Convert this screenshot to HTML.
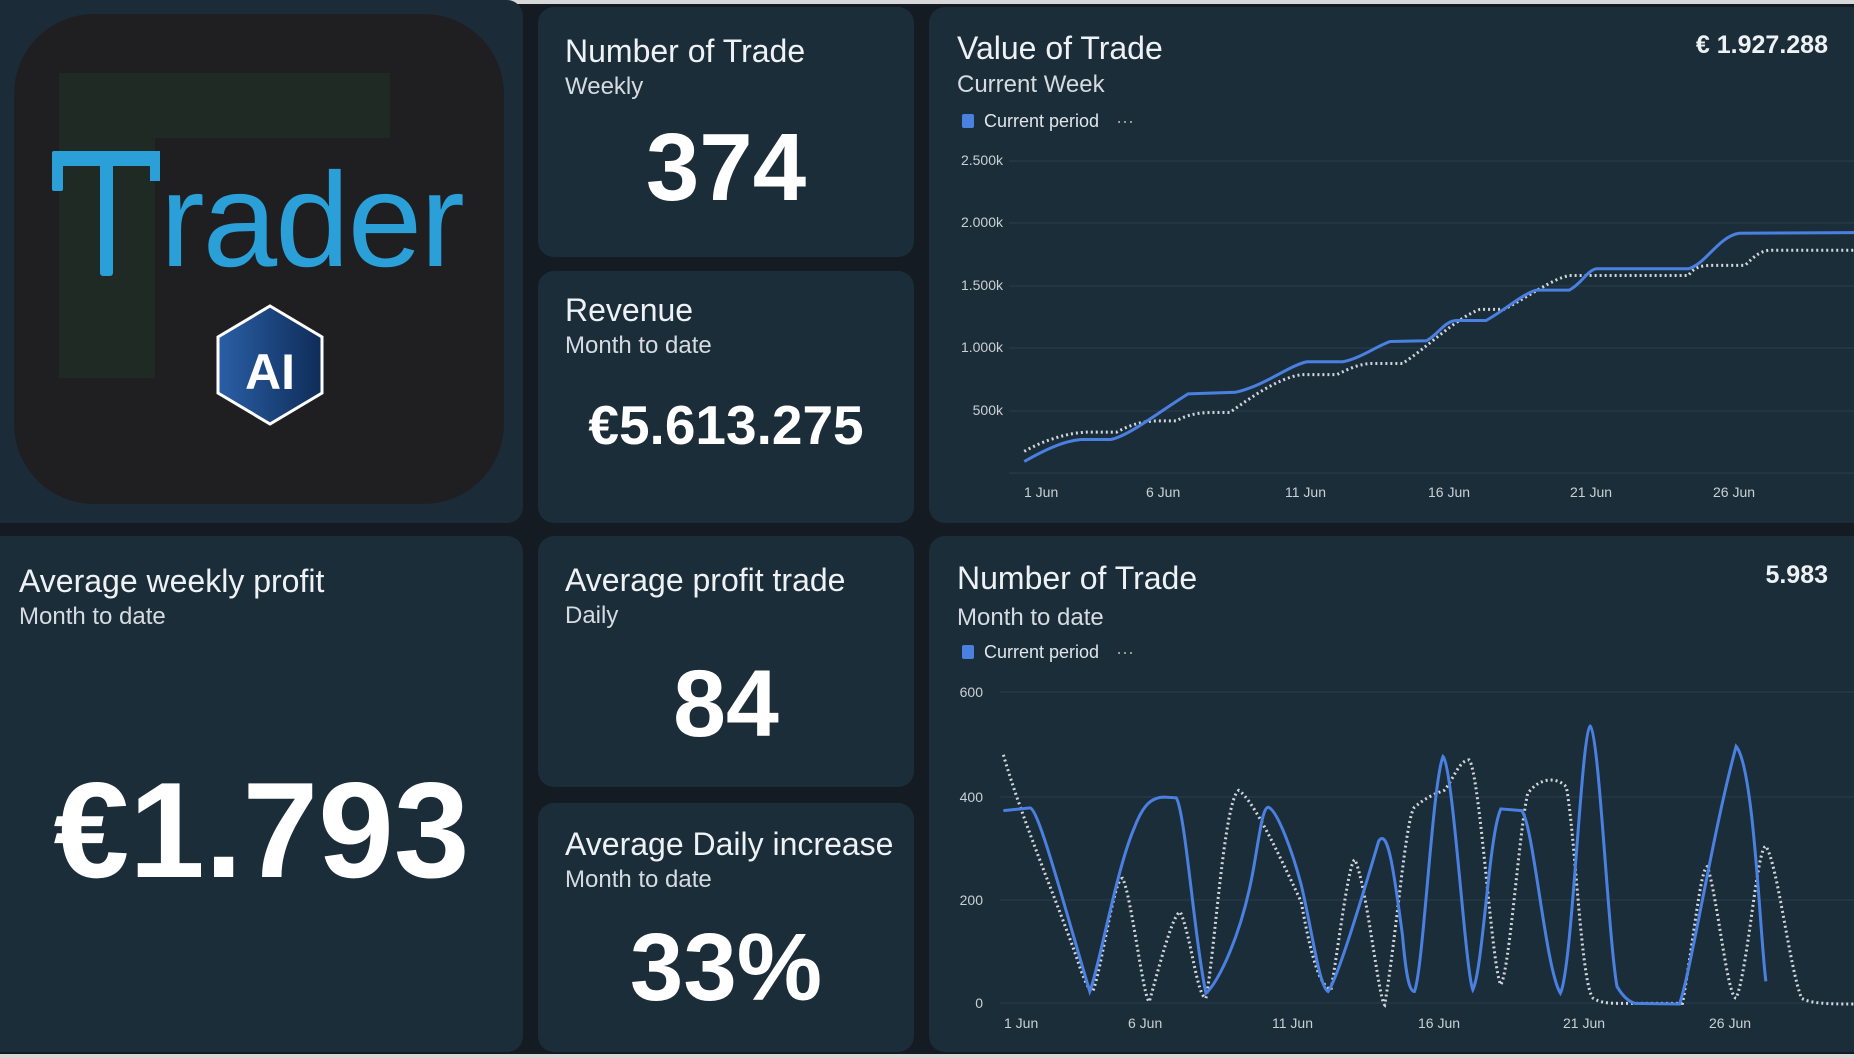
<!DOCTYPE html>
<html><head><meta charset="utf-8"><style>
html,body{margin:0;padding:0;}
body{width:1854px;height:1058px;background:#141b22;position:relative;overflow:hidden;font-family:"Liberation Sans",sans-serif;color:#fff;}
.card{position:absolute;background:#1c2d3a;border-radius:16px;}
.t{position:absolute;font-size:32px;color:#eef2f5;white-space:nowrap;}
.s{position:absolute;font-size:24px;color:#d5dbe0;white-space:nowrap;}
.big{position:absolute;left:0;right:0;text-align:center;font-weight:bold;color:#fff;line-height:1;}
.yl{position:absolute;font-size:14px;color:#c9d0d6;text-align:right;width:60px;}
.xl{position:absolute;font-size:14px;color:#c9d0d6;white-space:nowrap;}
.leg{position:absolute;font-size:18px;color:#e0e5ea;white-space:nowrap;}
.leg i{display:inline-block;width:12px;height:14px;background:#4a80e0;vertical-align:-1px;margin-right:10px;border-radius:2px;}
</style></head><body>
<div style="position:absolute;left:506px;top:0;width:1348px;height:4px;background:#d8d8d8"></div>
<div style="position:absolute;left:0;top:1054px;width:1854px;height:4px;background:#d8d8d8"></div>

<!-- logo card -->
<div class="card" style="left:0;top:0;width:523px;height:523px;border-radius:0 16px 16px 0;background:#1b2c38"></div>
<div style="position:absolute;left:14px;top:14px;width:490px;height:490px;border-radius:80px;background:#1f1f21"></div>
<div style="position:absolute;left:59px;top:73px;width:331px;height:305px;background:#1f2a25"></div>
<div style="position:absolute;left:155px;top:138px;width:300px;height:350px;background:#1f1f21"></div>
<div style="position:absolute;left:52px;top:151px;width:108px;height:15px;background:#2a9fd8;border-radius:3px"></div>
<div style="position:absolute;left:52px;top:151px;width:11px;height:40px;background:#2a9fd8;border-radius:2px"></div>
<div style="position:absolute;left:150px;top:151px;width:10px;height:30px;background:#2a9fd8"></div>
<div style="position:absolute;left:100px;top:151px;width:13px;height:125px;background:#2a9fd8;border-radius:3px"></div>
<div style="position:absolute;left:160px;top:154px;font-size:134px;line-height:134px;color:#2a9fd8;letter-spacing:-2px">rader</div>
<svg style="position:absolute;left:210px;top:303px" width="120" height="124" viewBox="0 0 120 124">
<defs><linearGradient id="hg" x1="0" x2="1"><stop offset="0" stop-color="#2a5fa6"/><stop offset="1" stop-color="#0f2c58"/></linearGradient></defs>
<polygon points="60,3 112,34 112,90 60,121 8,90 8,34" fill="url(#hg)" stroke="#fff" stroke-width="3"/>
<text x="60" y="86" text-anchor="middle" font-family="Liberation Sans" font-weight="bold" font-size="50" fill="#fff">AI</text>
</svg>

<!-- middle cards -->
<div class="card" style="left:538px;top:7px;width:376px;height:250px">
 <div class="t" style="left:27px;top:26px">Number of Trade</div>
 <div class="s" style="left:27px;top:66px">Weekly</div>
 <div class="big" style="top:113px;font-size:96px">374</div>
</div>
<div class="card" style="left:538px;top:271px;width:376px;height:252px">
 <div class="t" style="left:27px;top:21px">Revenue</div>
 <div class="s" style="left:27px;top:61px">Month to date</div>
 <div class="big" style="top:127px;font-size:55px">€5.613.275</div>
</div>
<div class="card" style="left:0;top:536px;width:523px;height:516px;border-radius:0 16px 16px 0">
 <div class="t" style="left:19px;top:27px">Average weekly profit</div>
 <div class="s" style="left:19px;top:67px">Month to date</div>
 <div class="big" style="left:0;right:0;top:226px;font-size:136px">€1.793</div>
</div>
<div class="card" style="left:538px;top:536px;width:376px;height:251px">
 <div class="t" style="left:27px;top:26px">Average profit trade</div>
 <div class="s" style="left:27px;top:66px">Daily</div>
 <div class="big" style="top:121px;font-size:95px">84</div>
</div>
<div class="card" style="left:538px;top:803px;width:376px;height:249px">
 <div class="t" style="left:27px;top:23px">Average Daily increase</div>
 <div class="s" style="left:27px;top:63px">Month to date</div>
 <div class="big" style="top:117px;font-size:96px">33%</div>
</div>

<!-- chart 1 -->
<div class="card" style="left:929px;top:7px;width:940px;height:516px"></div>
<div class="t" style="left:957px;top:30px">Value of Trade</div>
<div class="t" style="left:1600px;top:31px;width:228px;text-align:right;font-weight:bold;font-size:25px">€ 1.927.288</div>
<div class="s" style="left:957px;top:71px">Current Week</div>
<div class="leg" style="left:962px;top:111px"><i></i>Current period <span style="margin-left:12px;color:#aaa">···</span></div>
<div class="yl" style="left:943px;top:152px">2.500k</div>
<div class="yl" style="left:943px;top:214px">2.000k</div>
<div class="yl" style="left:943px;top:277px">1.500k</div>
<div class="yl" style="left:943px;top:339px">1.000k</div>
<div class="yl" style="left:943px;top:402px">500k</div>
<div class="xl" style="left:1024px;top:484px">1 Jun</div>
<div class="xl" style="left:1146px;top:484px">6 Jun</div>
<div class="xl" style="left:1285px;top:484px">11 Jun</div>
<div class="xl" style="left:1428px;top:484px">16 Jun</div>
<div class="xl" style="left:1570px;top:484px">21 Jun</div>
<div class="xl" style="left:1713px;top:484px">26 Jun</div>

<!-- chart 2 -->
<div class="card" style="left:929px;top:536px;width:940px;height:516px"></div>
<div class="t" style="left:957px;top:560px">Number of Trade</div>
<div class="t" style="left:1600px;top:561px;width:228px;text-align:right;font-weight:bold;font-size:25px">5.983</div>
<div class="s" style="left:957px;top:604px">Month to date</div>
<div class="leg" style="left:962px;top:642px"><i></i>Current period <span style="margin-left:12px;color:#aaa">···</span></div>
<div class="yl" style="left:923px;top:684px">600</div>
<div class="yl" style="left:923px;top:789px">400</div>
<div class="yl" style="left:923px;top:892px">200</div>
<div class="yl" style="left:923px;top:995px">0</div>
<div class="xl" style="left:1004px;top:1015px">1 Jun</div>
<div class="xl" style="left:1128px;top:1015px">6 Jun</div>
<div class="xl" style="left:1272px;top:1015px">11 Jun</div>
<div class="xl" style="left:1418px;top:1015px">16 Jun</div>
<div class="xl" style="left:1563px;top:1015px">21 Jun</div>
<div class="xl" style="left:1709px;top:1015px">26 Jun</div>

<svg style="position:absolute;left:0;top:0" width="1854" height="1058">
<g stroke="#2a3c4a" stroke-width="1">
<line x1="1009" x2="1854" y1="161" y2="161"/><line x1="1009" x2="1854" y1="223" y2="223"/><line x1="1009" x2="1854" y1="286" y2="286"/><line x1="1009" x2="1854" y1="348" y2="348"/><line x1="1009" x2="1854" y1="411" y2="411"/><line x1="1009" x2="1854" y1="473" y2="473"/>
<line x1="1000" x2="1854" y1="692" y2="692"/><line x1="1000" x2="1854" y1="797" y2="797"/><line x1="1000" x2="1854" y1="900" y2="900"/><line x1="1000" x2="1854" y1="1003" y2="1003"/>
</g>
<g transform="translate(920,0) scale(0.5957,0.3381)" fill="none">
<path vector-effect="non-scaling-stroke" stroke="#d0d6dc" stroke-width="3" stroke-dasharray="2 3" d="M175,1335 C210,1300 250,1280 280,1278 L330,1278 C350,1260 370,1245 400,1245 L430,1245 C450,1225 470,1220 490,1220 L520,1220 C560,1170 600,1120 640,1108 L700,1108 C720,1090 740,1075 760,1075 L810,1075 C850,1030 900,940 940,915 L980,915 C1020,880 1060,825 1090,815 L1290,815 C1300,790 1310,785 1330,785 L1385,785 C1400,760 1410,740 1430,740 L1568,740"/>
<path vector-effect="non-scaling-stroke" stroke="#4a80e0" stroke-width="3" d="M175,1365 C210,1330 240,1305 270,1300 L320,1300 C350,1290 400,1220 450,1165 L530,1160 C580,1140 620,1080 650,1070 L710,1070 C740,1060 770,1020 790,1010 L850,1008 C870,990 880,950 900,948 L950,948 C980,920 1010,870 1035,858 L1090,858 C1110,840 1120,800 1135,795 L1290,795 C1320,780 1340,700 1375,690 L1568,688"/>
</g>
<g transform="translate(920,530) scale(0.5957,0.3381)" fill="none">
<path vector-effect="non-scaling-stroke" stroke="#d0d6dc" stroke-width="3" stroke-dasharray="2 3" d="M140,665 C170,850 230,1100 260,1250 C270,1300 280,1360 290,1365 C305,1300 325,1030 340,1030 C355,1080 375,1390 385,1395 C400,1300 425,1130 437,1130 C455,1200 465,1380 480,1385 C495,1250 510,800 535,770 C560,800 600,950 640,1100 C660,1300 675,1350 690,1360 C705,1200 720,980 730,975 C750,1050 770,1390 780,1405 C800,1200 815,850 830,820 C850,790 865,780 880,770 C895,740 905,680 922,680 C940,720 960,1300 975,1345 C990,1300 1005,900 1020,780 C1040,730 1070,730 1085,760 C1100,900 1110,1350 1130,1385 C1140,1395 1150,1400 1170,1400 L1280,1400 C1300,1200 1310,1000 1322,995 C1340,1100 1355,1380 1370,1385 C1390,1300 1405,935 1420,935 C1440,990 1460,1300 1480,1385 C1495,1400 1520,1402 1568,1402"/>
<path vector-effect="non-scaling-stroke" stroke="#4a80e0" stroke-width="3" d="M140,830 L185,822 C200,830 240,1100 285,1365 C300,1300 330,1000 360,880 C375,810 390,790 410,790 L430,792 C445,830 460,1200 480,1370 C500,1340 540,1200 560,1000 C570,900 575,820 585,820 C600,830 625,950 640,1050 C660,1200 670,1350 685,1365 C700,1330 740,1100 770,920 C785,880 795,1000 810,1200 C815,1300 820,1365 830,1365 C845,1300 860,750 878,670 C895,700 915,1300 928,1360 C945,1300 955,900 975,825 L1010,830 C1030,870 1050,1300 1075,1370 C1095,1300 1110,600 1125,580 C1140,600 1155,1200 1170,1350 C1180,1380 1190,1395 1200,1400 L1275,1402 C1295,1300 1330,900 1370,640 C1400,700 1410,1200 1420,1335"/>
</g>
</svg>
</body></html>
